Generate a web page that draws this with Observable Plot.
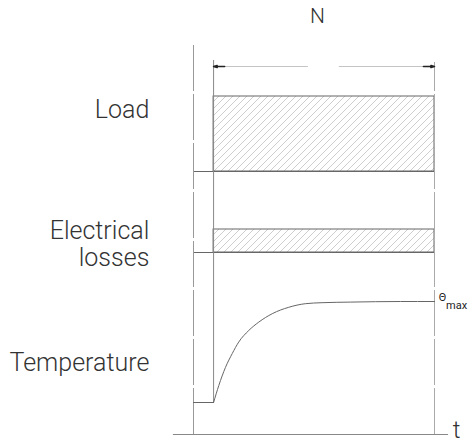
<!DOCTYPE html>
<html>
<head>
<meta charset="utf-8">
<script src="https://cdn.jsdelivr.net/npm/d3@7"></script>
<script src="https://cdn.jsdelivr.net/npm/@observablehq/plot@0.6"></script>
<style>
  html, body { margin: 0; padding: 0; background: #fff; }
  #chart { width: 475px; height: 443px; }
</style>
</head>
<body>
<div id="chart"></div>
<script>
// ---- data (time in arbitrary units, levels in arbitrary units) ----
const tStart = 0;      // reference (dashed) line
const tOn = 1;         // load switched on
const tOff = 12;       // end of duty period N
const panelNames = ["Load", "Electrical losses", "Temperature"];
const panelBase = [65.75, 45.5, 8];
const panelLevel = [84.5, 51.25, 33.25];
const labelY = [81.25, 50.9, 18];
// temperature rise
const tempT = [1, 1.26, 1.59, 1.93, 2.25, 2.75, 3.25, 3.92, 4.74, 5.57, 6.40, 7.81, 10.3, 12];
const tempY = [8, 12.25, 16.75, 20.25, 23.1, 26, 28.1, 30.2, 31.8, 32.7, 32.95, 33.1, 33.25, 33.25];
const nGap = [5.72, 7.26];   // gap in the N dimension line
const nLevel = 92;

const temp = tempT.map((t, i) => ({t, y: tempY[i]}));
const blocks = [0, 1].map(i => ({name: panelNames[i], base: panelBase[i], level: panelLevel[i]}));
const labels = [
  {t: -2.2, y: labelY[0], text: "Load"},
  {t: -2.2, y: labelY[1], text: "Electrical"},
  {t: -2.2, y: labelY[1] - 6.75, text: "losses"},
  {t: -2.2, y: labelY[2], text: "Temperature"}
];

const textColor = "#333";
const svg = Plot.plot({
  width: 475,
  height: 443,
  marginLeft: 193,
  marginRight: 41,
  marginTop: 34,
  marginBottom: 9,
  x: {domain: [tStart, tOff], axis: null},
  y: {domain: [0, 100], axis: null},
  style: {fontFamily: "Roboto, 'Liberation Sans', sans-serif", background: "#fff"},
  marks: [
    // hatched blocks
    Plot.rect(blocks, {x1: tOn, x2: tOff, y1: "base", y2: "level", fill: "url(#hatch)", stroke: "#666", strokeWidth: 1}),
    // baselines before switching on
    Plot.ruleY(blocks, {y: "base", x1: tStart, x2: tOff, stroke: "#666", strokeWidth: 1}),
    // reference vertical lines
    Plot.ruleX([tStart], {y1: 0, y2: 98, stroke: "#999", strokeWidth: 1, strokeDasharray: "46,3"}),
    Plot.ruleX([tOff], {y1: 0, y2: 93, stroke: "#aaa", strokeWidth: 1, strokeDasharray: "46,3"}),
    Plot.ruleX([tOn], {y1: panelBase[2], y2: 93.5, stroke: "#888", strokeWidth: 1}),
    // time axis
    Plot.ruleY([0], {x1: -1, x2: 12.7, stroke: "#888", strokeWidth: 1}),
    // temperature
    Plot.line([{t: tStart, y: panelBase[2]}, {t: tOn, y: panelBase[2]}], {x: "t", y: "y", stroke: "#666", strokeWidth: 1}),
    Plot.line(temp, {x: "t", y: "y", stroke: "#666", strokeWidth: 1, curve: "monotone-x"}),
    // N dimension line
    Plot.ruleY([nLevel], {x1: tOn, x2: nGap[0], stroke: "#c4c4c4", strokeWidth: 1}),
    Plot.ruleY([nLevel], {x1: nGap[1], x2: tOff, stroke: "#c4c4c4", strokeWidth: 1}),
    Plot.arrow([{a: tOn + 0.55, b: tOn}, {a: tOff - 0.55, b: tOff}], {x1: "a", x2: "b", y1: nLevel, y2: nLevel, stroke: "#222", strokeWidth: 1.6, headLength: 10, headAngle: 30, inset: 0}),
    Plot.text(["N"], {x: 6.17, y: 104.6, text: d => d, fontSize: 21, fill: textColor, fontWeight: 300}),
    // side labels
    Plot.text(labels, {x: "t", y: "y", text: "text", textAnchor: "end", fontSize: 25, fill: textColor, fontWeight: 300}),
    // theta max label
    Plot.text(["Θ"], {x: 12.4, y: 34.3, text: d => d, fontSize: 11, fill: "#222"}),
    Plot.text(["max"], {x: 13.1, y: 32.3, text: d => d, fontSize: 11, fill: "#222"}),
    // t label
    Plot.text(["t"], {x: 13.1, y: 1.1, text: d => d, fontSize: 24, fill: textColor, fontWeight: 300})
  ]
});

// hatch pattern definition
const defs = d3.select(svg).insert("defs", ":first-child");
const pat = defs.append("pattern")
  .attr("id", "hatch")
  .attr("patternUnits", "userSpaceOnUse")
  .attr("width", 7).attr("height", 7);
pat.append("rect").attr("width", 7).attr("height", 7).attr("fill", "#fff");
pat.append("path")
  .attr("d", "M-1,1 l2,-2 M0,7 l7,-7 M6,8 l2,-2")
  .attr("stroke", "#c8c8c8").attr("stroke-width", 0.9);

document.getElementById("chart").appendChild(svg);
</script>
</body>
</html>
